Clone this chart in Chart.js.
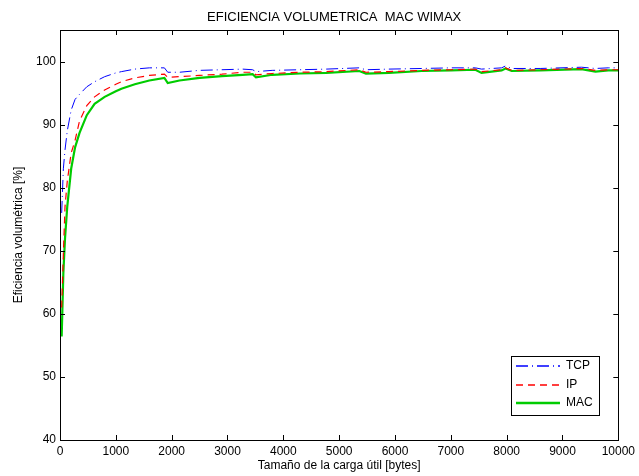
<!DOCTYPE html>
<html>
<head>
<meta charset="utf-8">
<script src="https://cdn.jsdelivr.net/npm/chart.js@4/dist/chart.umd.min.js"></script>
<style>
  html, body { margin: 0; padding: 0; background: #fff; }
  canvas { display: block; }
</style>
</head>
<body>
<canvas id="chart" width="639" height="476"></canvas>
<script>
// payload size in bytes (shared x values)
const payload = [30, 60, 90, 130, 200, 270, 350, 480, 620, 800, 1000, 1100, 1340, 1600, 1870, 1930,
  2140, 2500, 2900, 3270, 3450, 3510, 3800, 4300, 4770, 5360, 5480, 5890, 6480, 7000, 7440, 7550,
  7910, 7980, 8090, 8600, 9340, 9590, 9820, 10000];

const tcp = [76, 83, 86, 89, 92.3, 94, 94.8, 96.0, 96.8, 97.6, 98.2, 98.4, 98.8, 99.0, 99.0, 98.3,
  98.3, 98.6, 98.7, 98.8, 98.7, 98.4, 98.6, 98.7, 98.8, 99.0, 98.7, 98.8, 98.9, 99.0, 99.0, 98.8,
  99.0, 99.3, 98.9, 98.9, 99.1, 98.9, 99.0, 99.0];

const ip = [61, 69.5, 77, 81, 85.5, 87.5, 90.6, 93.0, 94.4, 95.5, 96.4, 96.8, 97.4, 97.8, 98.0, 97.5,
  97.6, 97.8, 98.0, 98.3, 98.3, 97.9, 98.1, 98.3, 98.4, 98.7, 98.3, 98.4, 98.6, 98.7, 98.8, 98.4,
  98.7, 99.0, 98.6, 98.7, 98.9, 98.6, 98.7, 98.7];

const mac = [56.4, 66.5, 72, 77, 83, 86.4, 88.7, 91.5, 93.3, 94.4, 95.3, 95.7, 96.4, 97.0, 97.4, 96.6,
  97.0, 97.4, 97.7, 97.9, 98.0, 97.5, 97.9, 98.1, 98.2, 98.5, 98.1, 98.2, 98.5, 98.6, 98.7, 98.2,
  98.6, 98.9, 98.5, 98.6, 98.8, 98.4, 98.6, 98.6];

const seriesNames = ["TCP", "IP", "MAC"];
const chartTitle = "EFICIENCIA VOLUMETRICA  MAC WIMAX";

const FONT = "'Liberation Sans', Arial, Helvetica, sans-serif";

const toPoints = (ys) => ys.map((y, i) => ({ x: payload[i], y: y }));

// title centred over the axes
const axesTitle = {
  id: "axesTitle",
  afterDraw(chart) {
    const { ctx, chartArea: a } = chart;
    ctx.save();
    ctx.font = "13px " + FONT;
    ctx.fillStyle = "#000";
    ctx.textAlign = "center";
    ctx.textBaseline = "middle";
    ctx.fillText(chartTitle, (a.left + a.right) / 2 - 5, a.top - 13);
    ctx.restore();
  },
};

// box around the axes with inward ticks
const boxTicks = {
  id: "boxTicks",
  afterDraw(chart) {
    const { ctx, chartArea: a, scales } = chart;
    const len = 5;
    ctx.save();
    ctx.strokeStyle = "#000";
    ctx.lineWidth = 1;
    ctx.beginPath();
    scales.x.ticks.forEach((t) => {
      const px = Math.round(scales.x.getPixelForValue(t.value)) + 0.5;
      ctx.moveTo(px, a.bottom);
      ctx.lineTo(px, a.bottom - len);
      ctx.moveTo(px, a.top);
      ctx.lineTo(px, a.top + len);
    });
    scales.y.ticks.forEach((t) => {
      const py = Math.round(scales.y.getPixelForValue(t.value)) + 0.5;
      ctx.moveTo(a.left, py);
      ctx.lineTo(a.left + len, py);
      ctx.moveTo(a.right, py);
      ctx.lineTo(a.right - len, py);
    });
    ctx.stroke();
    ctx.strokeRect(Math.round(a.left) + 0.5, Math.round(a.top) + 0.5,
      Math.round(a.right - a.left), Math.round(a.bottom - a.top));
    ctx.restore();
  },
};

// legend box in the lower right corner of the plot
const boxLegend = {
  id: "boxLegend",
  afterDraw(chart) {
    const { ctx, chartArea: a } = chart;
    const w = 88, h = 59;
    const x0 = Math.round(a.right) - 19 - w, y0 = Math.round(a.bottom) - 84;
    ctx.save();
    ctx.fillStyle = "#fff";
    ctx.fillRect(x0, y0, w, h);
    ctx.strokeStyle = "#000";
    ctx.lineWidth = 1;
    ctx.strokeRect(x0 + 0.5, y0 + 0.5, w, h);
    ctx.font = "12px " + FONT;
    ctx.textBaseline = "middle";
    chart.data.datasets.forEach((ds, i) => {
      const y = Math.round(y0 + 10 + i * 18.5);
      ctx.strokeStyle = ds.borderColor;
      ctx.lineWidth = ds.borderWidth + 0.3;
      ctx.setLineDash(ds.borderDash || []);
      ctx.beginPath();
      ctx.moveTo(x0 + 5, y);
      ctx.lineTo(x0 + 49, y);
      ctx.stroke();
      ctx.setLineDash([]);
      ctx.fillStyle = "#000";
      ctx.fillText(ds.label, x0 + 55, y);
    });
    ctx.restore();
  },
};

const ctx = document.getElementById("chart");

new Chart(ctx, {
  type: "line",
  data: {
    datasets: [
      {
        label: seriesNames[0],
        data: toPoints(tcp),
        borderColor: "#0000ff",
        borderWidth: 1,
        borderDash: [12, 4, 1, 4],
      },
      {
        label: seriesNames[1],
        data: toPoints(ip),
        borderColor: "#ff0000",
        borderWidth: 1.2,
        borderDash: [7, 5],
      },
      {
        label: seriesNames[2],
        data: toPoints(mac),
        borderColor: "#00cc00",
        borderWidth: 2.2,
      },
    ],
  },
  options: {
    responsive: false,
    animation: false,
    layout: { padding: { left: 0, right: 19, top: 30, bottom: 0 } },
    elements: { point: { radius: 0 }, line: { tension: 0 } },
    plugins: {
      legend: { display: false },
      tooltip: { enabled: false },
      title: { display: false },
    },
    scales: {
      x: {
        type: "linear",
        min: 0,
        max: 10000,
        grid: { display: false, drawTicks: false },
        border: { display: false },
        ticks: {
          stepSize: 1000, color: "#000", padding: 4, maxRotation: 0,
          font: { family: FONT, size: 12 },
          callback: (v) => String(v),
        },
        title: {
          display: true,
          text: "Tamaño de la carga útil [bytes]",
          color: "#000",
          font: { family: FONT, size: 12 },
          padding: { top: 0, bottom: 3 },
        },
        afterFit(scale) { scale.height = 36; },
      },
      y: {
        min: 40,
        max: 105,
        grid: { display: false, drawTicks: false },
        border: { display: false },
        ticks: {
          stepSize: 10, color: "#000", padding: 4,
          font: { family: FONT, size: 12 },
          callback: (v) => String(v),
        },
        afterBuildTicks(scale) {
          scale.ticks = scale.ticks.filter((t) => t.value % 10 === 0);
        },
        title: {
          display: true,
          text: "Eficiencia volumétrica [%]",
          color: "#000",
          font: { family: FONT, size: 12 },
          padding: { top: 11, bottom: 0 },
        },
        afterFit(scale) { scale.width = 60; },
      },
    },
  },
  plugins: [boxTicks, boxLegend, axesTitle],
});
</script>
</body>
</html>
